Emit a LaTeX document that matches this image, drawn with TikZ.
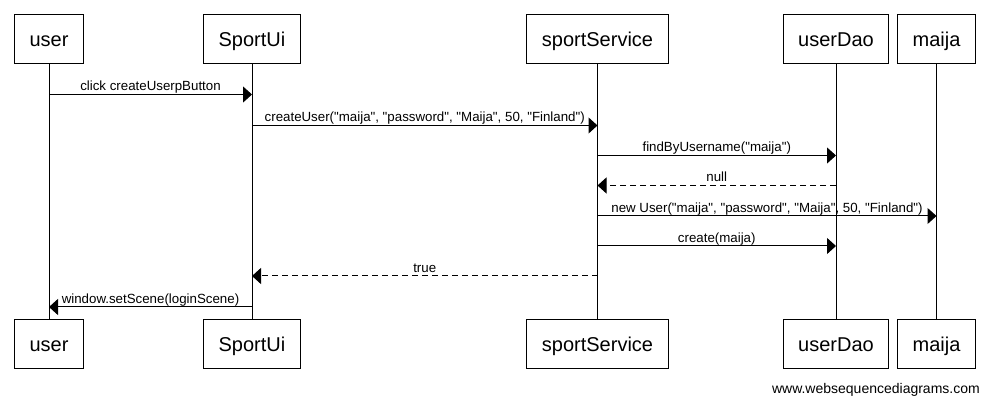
\documentclass[tikz,border=0pt]{standalone}
\usepackage{fontspec}
\setmainfont{Liberation Sans}[Ligatures=TeXOff]
\usetikzlibrary{arrows.meta}
\begin{document}
\begin{tikzpicture}[x=1pt, y=-1pt]

    \tikzstyle{actor} = [rectangle, draw, line width=1pt, inner xsep=15pt, inner ysep=0pt, minimum height=49pt, text height=14.3pt, text depth=0pt, font=\fontsize{20}{24}\selectfont]
    \tikzstyle{life} = [line width=1pt]
    \tikzstyle{call} = [line width=1pt, -{Triangle[length=9pt, width=16pt]}]
    \tikzstyle{reply} = [call, dash pattern=on 6pt off 4pt]
    \tikzstyle{msg} = [midway, anchor=base, yshift=3.5pt, inner sep=0pt, font=\fontsize{13.3}{15}\selectfont]

    \useasboundingbox (0,0) rectangle (989,403);

    \node[actor] (userTop) at (49,39.5) {user};
    \node[actor] (uiTop) at (252,39.5) {SportUi};
    \node[actor] (serviceTop) at (597.5,39.5) {sportService};
    \node[actor] (daoTop) at (836,39.5) {userDao};
    \node[actor] (maijaTop) at (936.5,39.5) {maija};

    \node[actor] (userBot) at (49,344.5) {user};
    \node[actor] (uiBot) at (252,344.5) {SportUi};
    \node[actor] (serviceBot) at (597.5,344.5) {sportService};
    \node[actor] (daoBot) at (836,344.5) {userDao};
    \node[actor] (maijaBot) at (936.5,344.5) {maija};

    \draw[life] (userTop) -- (userBot);
    \draw[life] (uiTop) -- (uiBot);
    \draw[life] (serviceTop) -- (serviceBot);
    \draw[life] (daoTop) -- (daoBot);
    \draw[life] (maijaTop) -- (maijaBot);

    \draw[call] (userTop.south |- 0,94.5) -- (uiTop.south |- 0,94.5) node[msg] {click createUserpButton};
    \draw[call] (uiTop.south |- 0,125.5) -- (serviceTop.south |- 0,125.5) node[msg] {createUser("maija", "password", "Maija", 50, "Finland")};
    \draw[call] (serviceTop.south |- 0,155.5) -- (daoTop.south |- 0,155.5) node[msg] {findByUsername("maija")};
    \draw[reply] (daoTop.south |- 0,185.5) -- (serviceTop.south |- 0,185.5) node[msg] {null};
    \draw[call] (serviceTop.south |- 0,216) -- (maijaTop.south |- 0,216) node[msg] {new User("maija", "password", "Maija", 50, "Finland")};
    \draw[call] (serviceTop.south |- 0,246) -- (daoTop.south |- 0,246) node[msg] {create(maija)};
    \draw[reply] (serviceTop.south |- 0,276) -- (uiTop.south |- 0,276) node[msg] {true};
    \draw[call] (uiTop.south |- 0,307) -- (userTop.south |- 0,307) node[msg] {window.setScene(loginScene)};

    \node[anchor=base east, inner sep=0pt, font=\fontsize{14}{16}\selectfont] (site) at (980,394) {www.websequencediagrams.com};

\end{tikzpicture}
\end{document}
